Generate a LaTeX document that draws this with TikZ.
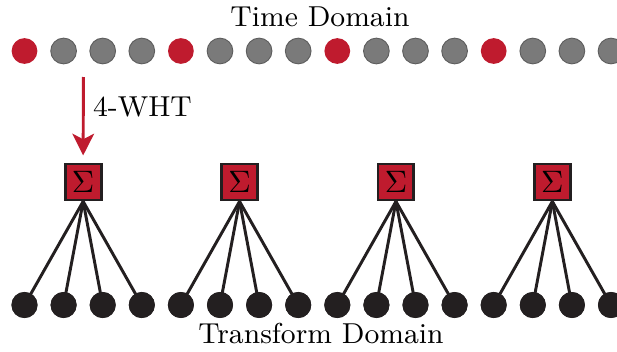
\documentclass[tikz,border=0pt]{standalone}
\usetikzlibrary{arrows.meta}
\definecolor{wred}{HTML}{BF1B2E}
\definecolor{wgray}{HTML}{7A7A7A}
\definecolor{wgrayedge}{HTML}{5E5E5E}
\definecolor{wblack}{HTML}{231F20}
\tikzset{
  px/.style={x=0.3226pt,y=-0.3226pt},
  sample/.style={circle,inner sep=0pt,minimum size=8.3pt,fill=wgray,draw=wgrayedge,line width=0.3pt},
  picked/.style={circle,inner sep=0pt,minimum size=8.3pt,fill=wred},
  coeff/.style={circle,inner sep=0pt,minimum size=8.4pt,fill=wblack},
  sumbox/.style={rectangle,inner sep=0pt,minimum size=11.6pt,fill=wred,draw=wblack,line width=0.95pt},
  spoke/.style={draw=wblack,line width=0.95pt},
  label/.style={font=\fontsize{9.3}{11}\selectfont,inner sep=0pt}
}
\begin{document}
\begin{tikzpicture}[px]
\useasboundingbox (0,0) rectangle (617,351);
% time-domain samples, every fourth one highlighted
\foreach \i in {0,...,15} {
  \pgfmathsetmacro{\xx}{24.5+39.1*\i}
  \pgfmathtruncatemacro{\m}{mod(\i,4)}
  \ifnum\m=0
    \node[picked] (t\i) at (\xx,51) {};
  \else
    \node[sample] (t\i) at (\xx,51) {};
  \fi
}
\node[label] (time) at (320,17) {Time Domain};
% one 4-point WHT block per group of four outputs
\foreach \g in {0,...,3} {
  \pgfmathsetmacro{\bx}{24.5+39.1*(4*\g+1.5)}
  \foreach \k in {0,...,3} {
    \pgfmathtruncatemacro{\j}{4*\g+\k}
    \node[coeff] (f\j) at ({24.5+39.1*\j},305) {};
  }
  \node[sumbox] (s\g) at (\bx,182) {$\Sigma$};
  \foreach \k in {0,...,3} {
    \pgfmathtruncatemacro{\j}{4*\g+\k}
    \draw[spoke] (s\g.south) -- (f\j.center);
  }
  \foreach \k in {0,...,3} {
    \pgfmathtruncatemacro{\j}{4*\g+\k}
    \node[coeff] at (f\j) {};
  }
}
\node[label] (freq) at (321,333) {Transform Domain};
% transform arrow
\coordinate (astart) at (83.4,77);
\draw[draw=wred,line width=0.95pt,-{Stealth[length=7pt,width=7pt,inset=1.8pt]}] (astart) -- ([yshift=2.3pt]s0.north);
\node[label,anchor=west] (wht) at (92.5,106.5) {4-WHT};
\end{tikzpicture}
\end{document}
